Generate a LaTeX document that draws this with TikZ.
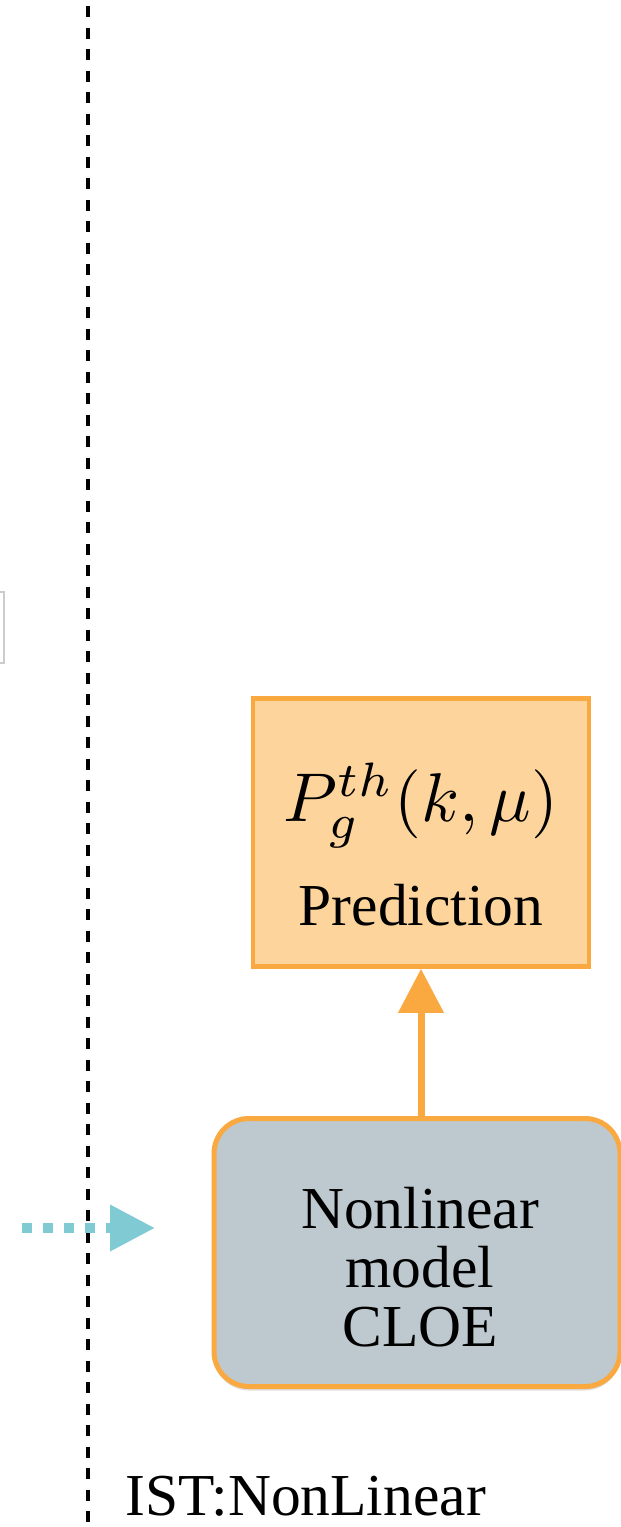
\documentclass[tikz,border=0pt]{standalone}
\usepackage{fontspec}
\setmainfont{Liberation Serif}
\usetikzlibrary{arrows.meta,shadows}
\definecolor{orangeE}{HTML}{F9A93F}
\definecolor{orangeF}{HTML}{FED49D}
\definecolor{greyF}{HTML}{BDC8CF}
\definecolor{tealA}{HTML}{7FCAD3}
\begin{document}
\begin{tikzpicture}[x=1pt,y=-1pt,
  predbox/.style={draw=orangeE,fill=orangeF,line width=4.5pt,minimum width=336pt,minimum height=268pt,inner sep=0pt},
  modelbox/.style={draw=orangeE,fill=greyF,line width=5pt,rounded corners=35pt,minimum width=406pt,minimum height=268pt,inner sep=0pt,
     drop shadow={shadow xshift=0pt,shadow yshift=-4pt,opacity=0.25}},
  sep/.style={draw=black,line width=4pt,dash pattern=on 11pt off 10.5pt},
  flow/.style={draw=orangeE,line width=7pt,-{Triangle[length=44pt,width=44pt]}},
  feed/.style={draw=tealA,line width=10pt,dash pattern=on 10pt off 11pt,-{Triangle[length=45pt,width=44pt]}},
  txt/.style={font=\fontsize{59.5}{59}\selectfont,inner sep=0pt,align=center}
]
\useasboundingbox (0,0) rectangle (621,1527);
\fill[white] (0,0) rectangle (621,1527);
% left fragment box
\draw[draw=black!20,fill=white,line width=1.2pt] (-10,592) rectangle (4,663);
% separator
\coordinate (st) at (88,6);
\coordinate (sb) at (88,1527);
\draw[sep] (st) -- (sb);
% prediction box
\node[predbox] (pred) at (421,832.5) {};
\node[inner sep=0pt] (eq) at (421,805) {\scalebox{6.9}{$P_g^{th}(k,\mu)$}};
\node[txt,anchor=base] (predt) at (421,925) {Prediction};
% model box
\begin{scope}
\clip (0,0) rectangle (621,1527);
\node[modelbox] (model) at (417,1252.5) {};
\end{scope}
\node[txt] (mt) at (420,1267) {Nonlinear\\model\\CLOE};
% arrow
\coordinate (as) at (model.north -| pred.south);
\draw[flow] (as) -- (pred.south);
% teal feed
\coordinate (fs) at (22,1228);
\coordinate (fe) at (155,1228);
\draw[feed] (fs) -- (fe);
% label
\node[txt,anchor=base west] (lab) at (125,1515) {IST:NonLinear};
\end{tikzpicture}
\end{document}
